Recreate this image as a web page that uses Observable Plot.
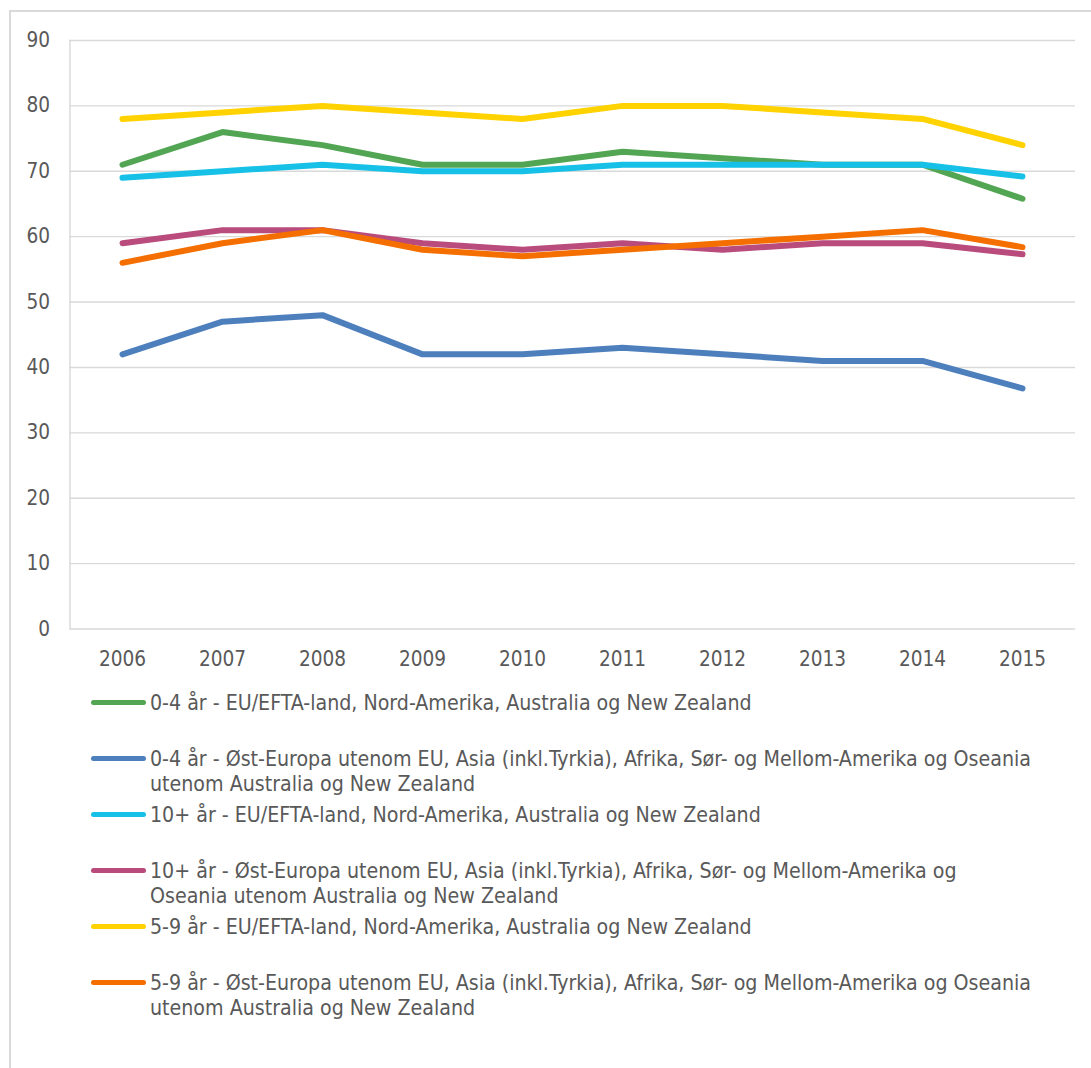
<!DOCTYPE html>
<html>
<head>
<meta charset="utf-8">
<script src="https://cdn.jsdelivr.net/npm/d3@7"></script>
<script src="https://cdn.jsdelivr.net/npm/@observablehq/plot@0.6"></script>
<style>
  html, body { margin: 0; padding: 0; background: #fff; }
  body { width: 1091px; height: 1068px; position: relative; overflow: hidden;
         font-family: "DejaVu Sans Condensed", "DejaVu Sans", sans-serif; color: #595959; }
  #frame { position: absolute; left: 9px; top: 10px; right: 0; bottom: 0;
           border-top: 2px solid #d9d9d9; border-left: 2px solid #d9d9d9; }
  #chart { position: absolute; left: 0; top: 0; }
  #legend { position: absolute; left: 91px; top: 690px; font-size: 21.2px; line-height: 25px; }
  .item { display: flex; align-items: flex-start; height: 56px; }
  .sw { width: 55px; height: 5px; border-radius: 3px; margin-top: 10px; margin-right: 4px; flex: none; }
  .lbl { white-space: pre; }
</style>
</head>
<body>
<div id="frame"></div>
<div id="chart"></div>
<div id="legend"></div>
<script>
const years = [2006, 2007, 2008, 2009, 2010, 2011, 2012, 2013, 2014, 2015];
const yTicks = [0, 10, 20, 30, 40, 50, 60, 70, 80, 90];

const seriesNames = [
  "0-4 år - EU/EFTA-land, Nord-Amerika, Australia og New Zealand",
  "0-4 år - Øst-Europa utenom EU, Asia (inkl.Tyrkia), Afrika, Sør- og Mellom-Amerika og Oseania utenom Australia og New Zealand",
  "10+ år - EU/EFTA-land, Nord-Amerika, Australia og New Zealand",
  "10+ år - Øst-Europa utenom EU, Asia (inkl.Tyrkia), Afrika, Sør- og Mellom-Amerika og Oseania utenom Australia og New Zealand",
  "5-9 år - EU/EFTA-land, Nord-Amerika, Australia og New Zealand",
  "5-9 år - Øst-Europa utenom EU, Asia (inkl.Tyrkia), Afrika, Sør- og Mellom-Amerika og Oseania utenom Australia og New Zealand"
];
// legend line breaks as in the reference
const legendLines = [
  ["0-4 år - EU/EFTA-land, Nord-Amerika, Australia og New Zealand"],
  ["0-4 år - Øst-Europa utenom EU, Asia (inkl.Tyrkia), Afrika, Sør- og Mellom-Amerika og Oseania", "utenom Australia og New Zealand"],
  ["10+ år - EU/EFTA-land, Nord-Amerika, Australia og New Zealand"],
  ["10+ år - Øst-Europa utenom EU, Asia (inkl.Tyrkia), Afrika, Sør- og Mellom-Amerika og", "Oseania utenom Australia og New Zealand"],
  ["5-9 år - EU/EFTA-land, Nord-Amerika, Australia og New Zealand"],
  ["5-9 år - Øst-Europa utenom EU, Asia (inkl.Tyrkia), Afrika, Sør- og Mellom-Amerika og Oseania", "utenom Australia og New Zealand"]
];
const seriesColors = ["#52a552", "#4e7fbd", "#17c0e7", "#b94c7c", "#ffd200", "#f56f00"];

const v04EU   = [71, 76, 74, 71, 71, 73, 72, 71, 71, 65.8];
const v04Ost  = [42, 47, 48, 42, 42, 43, 42, 41, 41, 36.8];
const v10EU   = [69, 70, 71, 70, 70, 71, 71, 71, 71, 69.2];
const v10Ost  = [59, 61, 61, 59, 58, 59, 58, 59, 59, 57.3];
const v59EU   = [78, 79, 80, 79, 78, 80, 80, 79, 78, 74.0];
const v59Ost  = [56, 59, 61, 58, 57, 58, 59, 60, 61, 58.4];
const seriesValues = [v04EU, v04Ost, v10EU, v10Ost, v59EU, v59Ost];

const data = seriesNames.flatMap((name, i) =>
  years.map((year, j) => ({ series: name, year, value: seriesValues[i][j] })));

const FONT = '"DejaVu Sans Condensed", "DejaVu Sans", sans-serif';

const chart = Plot.plot({
  width: 1091,
  height: 680,
  marginLeft: 69.5,
  marginRight: 16,
  marginTop: 40,
  marginBottom: 51.5,
  style: { fontFamily: FONT, fontSize: "20.6px", color: "#595959", background: "transparent" },
  x: { type: "point", domain: years, padding: 0.5, label: null },
  y: { domain: [0, 90], label: null },
  color: { domain: seriesNames, range: seriesColors },
  marks: [
    Plot.gridY(yTicks, { stroke: "#d9d9d9", strokeOpacity: 1, strokeWidth: 1.4 }),
    Plot.frame({ anchor: "left", stroke: "#d9d9d9", strokeWidth: 1.4 }),
    Plot.axisY(yTicks, { tickSize: 0, tickPadding: 20, tickFormat: d => String(d), fill: "#595959", label: null }),
    Plot.axisX(years, { tickSize: 0, tickPadding: 22, tickFormat: d => String(d), fill: "#595959", label: null }),
    Plot.line(data, {
      x: "year", y: "value", z: "series", stroke: "series",
      strokeWidth: 6, strokeLinecap: "round", strokeLinejoin: "round"
    })
  ]
});
document.getElementById("chart").appendChild(chart);

const legend = d3.select("#legend");
seriesNames.forEach((name, i) => {
  const item = legend.append("div").attr("class", "item");
  item.append("div").attr("class", "sw").style("background", seriesColors[i]);
  item.append("div").attr("class", "lbl").text(legendLines[i].join("\n"));
});
</script>
</body>
</html>
